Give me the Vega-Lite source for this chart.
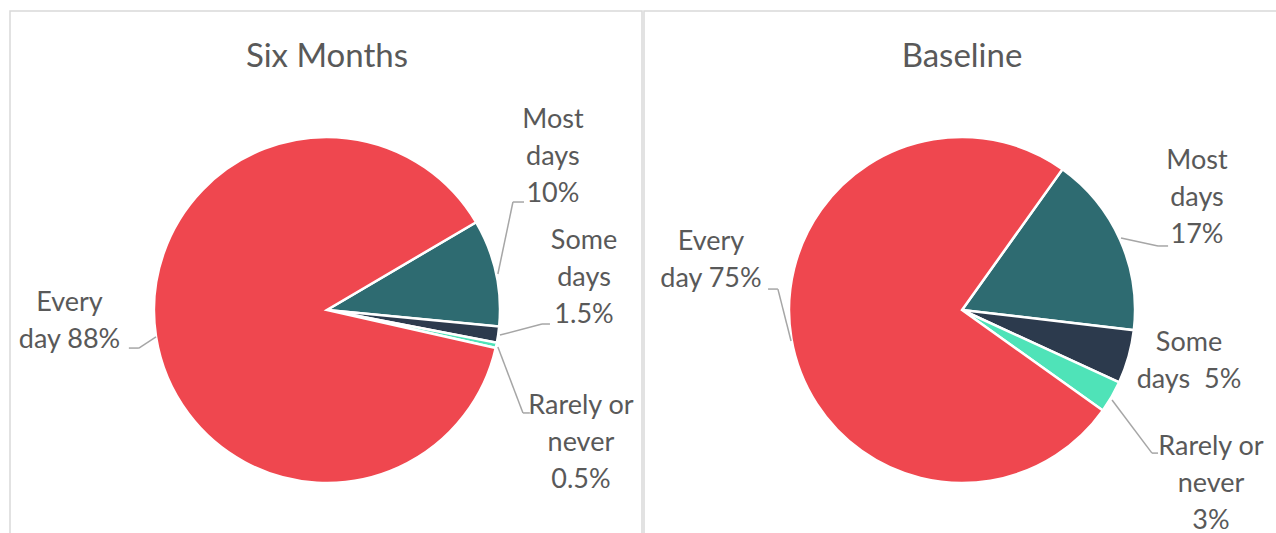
{
  "$schema": "https://vega.github.io/schema/vega-lite/v6.json",
  "background": "white",
  "padding": {"left": 9, "top": 10, "right": -7, "bottom": -7},
  "bounds": "flush",
  "spacing": 2,
  "config": {
    "view": {"stroke": "#d9d9d9", "strokeWidth": 1.5},
    "axis": {"disable": true},
    "text": {"font": "Lato", "color": "#595959", "align": "center", "baseline": "alphabetic", "lineBreak": "\n", "fontSize": 27, "lineHeight": 36.8},
    "rule": {"color": "#a6a6a6", "strokeWidth": 1.5}
  },
  "datasets": {
    "shares": [
      {"period": "Six Months", "category": "Most days", "pct": 10, "rank": 1, "label": "Most\ndays\n10%"},
      {"period": "Six Months", "category": "Some days", "pct": 1.5, "rank": 2, "label": "Some\ndays\n1.5%"},
      {"period": "Six Months", "category": "Rarely or never", "pct": 0.5, "rank": 3, "label": "Rarely or\nnever\n0.5%"},
      {"period": "Six Months", "category": "Every day", "pct": 88, "rank": 4, "label": "Every\nday 88%"},
      {"period": "Baseline", "category": "Most days", "pct": 17, "rank": 1, "label": "Most\ndays\n17%"},
      {"period": "Baseline", "category": "Some days", "pct": 5, "rank": 2, "label": "Some\ndays\u00a0 5%"},
      {"period": "Baseline", "category": "Rarely or never", "pct": 3, "rank": 3, "label": "Rarely or\nnever\n3%"},
      {"period": "Baseline", "category": "Every day", "pct": 75, "rank": 4, "label": "Every\nday 75%"}
    ]
  },
  "hconcat": [
    {
      "width": 632,
      "height": 530,
      "data": {"name": "shares"},
      "transform": [{"filter": "datum.period === 'Six Months'"}],
      "layer": [
        {
          "mark": {"type": "arc", "outerRadius": 173, "stroke": "white", "strokeWidth": 2.5},
          "encoding": {
            "x": {"datum": 0, "type": "quantitative", "scale": {"domain": [-183.2, 182.1], "nice": false, "zero": false}},
            "y": {"datum": 0, "type": "quantitative", "scale": {"domain": [-133.5, 172.8], "nice": false, "zero": false}},
            "theta": {"field": "pct", "type": "quantitative", "stack": true, "scale": {"range": [1.0385, 7.3217]}},
            "color": {"field": "category", "type": "nominal", "legend": null,
              "scale": {"domain": ["Every day", "Most days", "Some days", "Rarely or never"], "range": ["#EF474F", "#2E6B71", "#2C3A4D", "#4FE3B8"]}},
            "order": {"field": "rank", "type": "quantitative"}
          }
        },
        {
          "transform": [{"filter": "datum.rank === 1"}],
          "mark": {"type": "text", "fontSize": 33},
          "encoding": {"x": {"datum": 0}, "y": {"datum": 140.5}, "text": {"field": "period"}}
        },
        {
          "transform": [{"filter": "datum.category === 'Most days'"}],
          "layer": [
            {"mark": "text", "encoding": {"x": {"datum": 130.6}, "y": {"datum": 105.2}, "text": {"field": "label"}}},
            {"mark": "rule", "encoding": {"x": {"datum": 98.8}, "y": {"datum": 20.8}, "x2": {"datum": 107.5}, "y2": {"datum": 62.4}}},
            {"mark": "rule", "encoding": {"x": {"datum": 107.5}, "y": {"datum": 62.4}, "x2": {"datum": 113.9}, "y2": {"datum": 62.4}}}
          ]
        },
        {
          "transform": [{"filter": "datum.category === 'Some days'"}],
          "layer": [
            {"mark": "text", "encoding": {"x": {"datum": 148.6}, "y": {"datum": 35.3}, "text": {"field": "label"}}},
            {"mark": "rule", "encoding": {"x": {"datum": 100.0}, "y": {"datum": -14.5}, "x2": {"datum": 124.3}, "y2": {"datum": -8.1}}},
            {"mark": "rule", "encoding": {"x": {"datum": 124.3}, "y": {"datum": -8.1}, "x2": {"datum": 128.9}, "y2": {"datum": -8.1}}}
          ]
        },
        {
          "transform": [{"filter": "datum.category === 'Rarely or never'"}],
          "layer": [
            {"mark": "text", "encoding": {"x": {"datum": 146.8}, "y": {"datum": -60.1}, "text": {"field": "label"}}},
            {"mark": "rule", "encoding": {"x": {"datum": 98.8}, "y": {"datum": -21.4}, "x2": {"datum": 113.3}, "y2": {"datum": -59.5}}},
            {"mark": "rule", "encoding": {"x": {"datum": 113.3}, "y": {"datum": -59.5}, "x2": {"datum": 117.3}, "y2": {"datum": -59.5}}}
          ]
        },
        {
          "transform": [{"filter": "datum.category === 'Every day'"}],
          "layer": [
            {"mark": "text", "encoding": {"x": {"datum": -148.8}, "y": {"datum": -0.6}, "text": {"field": "label"}}},
            {"mark": "rule", "encoding": {"x": {"datum": -98.8}, "y": {"datum": -15.6}, "x2": {"datum": -108.7}, "y2": {"datum": -22.0}}},
            {"mark": "rule", "encoding": {"x": {"datum": -108.7}, "y": {"datum": -22.0}, "x2": {"datum": -114.5}, "y2": {"datum": -22.0}}}
          ]
        }
      ]
    },
    {
      "width": 640,
      "height": 530,
      "data": {"name": "shares"},
      "transform": [{"filter": "datum.period === 'Baseline'"}],
      "layer": [
        {
          "mark": {"type": "arc", "outerRadius": 173, "stroke": "white", "strokeWidth": 2.5},
          "encoding": {
            "x": {"datum": 0, "type": "quantitative", "scale": {"domain": [-183.8, 186.1], "nice": false, "zero": false}},
            "y": {"datum": 0, "type": "quantitative", "scale": {"domain": [-133.5, 172.8], "nice": false, "zero": false}},
            "theta": {"field": "pct", "type": "quantitative", "stack": true, "scale": {"range": [0.6196, 6.9028]}},
            "color": {"field": "category", "type": "nominal", "legend": null,
              "scale": {"domain": ["Every day", "Most days", "Some days", "Rarely or never"], "range": ["#EF474F", "#2E6B71", "#2C3A4D", "#4FE3B8"]}},
            "order": {"field": "rank", "type": "quantitative"}
          }
        },
        {
          "transform": [{"filter": "datum.rank === 1"}],
          "mark": {"type": "text", "fontSize": 33},
          "encoding": {"x": {"datum": 0}, "y": {"datum": 140.5}, "text": {"field": "period"}}
        },
        {
          "transform": [{"filter": "datum.category === 'Most days'"}],
          "layer": [
            {"mark": "text", "encoding": {"x": {"datum": 135.8}, "y": {"datum": 81.5}, "text": {"field": "label"}}},
            {"mark": "rule", "encoding": {"x": {"datum": 91.9}, "y": {"datum": 41.6}, "x2": {"datum": 113.3}, "y2": {"datum": 37.0}}},
            {"mark": "rule", "encoding": {"x": {"datum": 113.3}, "y": {"datum": 37.0}, "x2": {"datum": 119.1}, "y2": {"datum": 37.0}}}
          ]
        },
        {
          "transform": [{"filter": "datum.category === 'Some days'"}],
          "mark": "text",
          "encoding": {"x": {"datum": 131.2}, "y": {"datum": -23.7}, "text": {"field": "label"}}
        },
        {
          "transform": [{"filter": "datum.category === 'Rarely or never'"}],
          "layer": [
            {"mark": "text", "encoding": {"x": {"datum": 143.9}, "y": {"datum": -83.8}, "text": {"field": "label"}}},
            {"mark": "rule", "encoding": {"x": {"datum": 86.7}, "y": {"datum": -52.0}, "x2": {"datum": 109.8}, "y2": {"datum": -82.7}}},
            {"mark": "rule", "encoding": {"x": {"datum": 109.8}, "y": {"datum": -82.7}, "x2": {"datum": 113.3}, "y2": {"datum": -82.7}}}
          ]
        },
        {
          "transform": [{"filter": "datum.category === 'Every day'"}],
          "layer": [
            {"mark": "text", "encoding": {"x": {"datum": -145.1}, "y": {"datum": 34.7}, "text": {"field": "label"}}},
            {"mark": "rule", "encoding": {"x": {"datum": -98.8}, "y": {"datum": -17.9}, "x2": {"datum": -106.4}, "y2": {"datum": 12.1}}},
            {"mark": "rule", "encoding": {"x": {"datum": -106.4}, "y": {"datum": 12.1}, "x2": {"datum": -112.1}, "y2": {"datum": 12.1}}}
          ]
        }
      ]
    }
  ]
}
